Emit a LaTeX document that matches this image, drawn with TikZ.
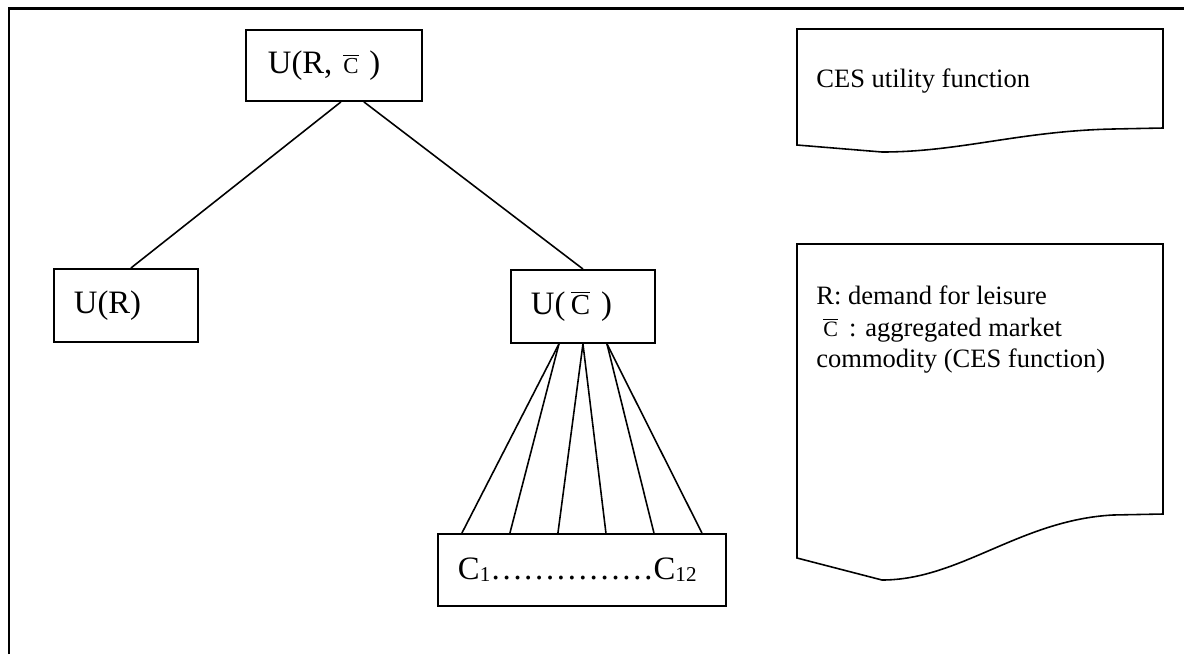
\documentclass[tikz,border=0pt]{standalone}
\usepackage{fontspec}
\setmainfont{Liberation Serif}
\usetikzlibrary{calc}

\newcommand{\cbar}[1]{$\overline{\hbox{\fontsize{#1}{#1}\selectfont C}}$}
\newcommand{\csub}[1]{\raisebox{-0.04cm}{\fontsize{12}{12}\selectfont #1}}

\begin{document}
\begin{tikzpicture}[x=0.02cm, y=-0.02cm,
    ubox/.style={draw, line width=1.1pt, anchor=north west, inner xsep=0.4cm,
        inner ysep=0pt, align=left, font=\fontsize{18.6}{22}\selectfont},
    link/.style={line width=0.9pt},
    docshape/.style={draw, line width=0.9pt},
    doctext/.style={anchor=north west, inner sep=0pt, align=left,
        font=\fontsize{15.1}{18.2}\selectfont}]
    \useasboundingbox (0,0) rectangle (1184,654);
    % frame, open at bottom and right
    \draw [line width=1.7pt] (9,654) -- (9,8) -- (1184,8);

    % utility tree
    \node [ubox, text width=2.64cm, minimum height=1.42cm, inner xsep=0.44cm] (urc) at (245,29) {U(R, \cbar{13}\ )};
    \node [ubox, text width=2.08cm, minimum height=1.46cm] (ur) at (53,268) {U(R)};
    \node [ubox, text width=2.08cm, minimum height=1.46cm] (uc) at (510,269) {U(\,\cbar{16.5}\ )};
    \node [ubox, text width=4.96cm, minimum height=1.44cm] (cs) at (437,533) {C\csub{1}……………C\csub{12}};

    \draw [link] ([xshift=0.14cm]urc.south) -- ([xshift=0.1cm]ur.north);
    \draw [link] ([xshift=0.6cm]urc.south) -- (uc.north);
    \foreach \a/\b in {-24/-120, -24/-72, 0/-24, 0/24, 24/72, 24/120}
        \draw [link] ([xshift=\a*0.02cm]uc.south) -- ([xshift=\b*0.02cm]cs.north);

    % notes on the right
    \draw [docshape] (797,29) -- (1163,29) -- (1163,128) -- (1113,129)
        .. controls (1020,131) and (960,152) .. (882,152) -- (797,145) -- cycle;
    \node [doctext, anchor=base west] (ces) at (816,87) {CES utility function};

    \draw [docshape] (797,244) -- (1163,244) -- (1163,514) -- (1113,515)
        .. controls (1020,520) and (960,580) .. (882,580) -- (797,558) -- cycle;
    \node [doctext] (legend) at (816,285) {R: demand for leisure\\
        \hspace{0.14cm}\cbar{12.5}\ \,: aggregated market\\
        commodity (CES function)};
\end{tikzpicture}
\end{document}
